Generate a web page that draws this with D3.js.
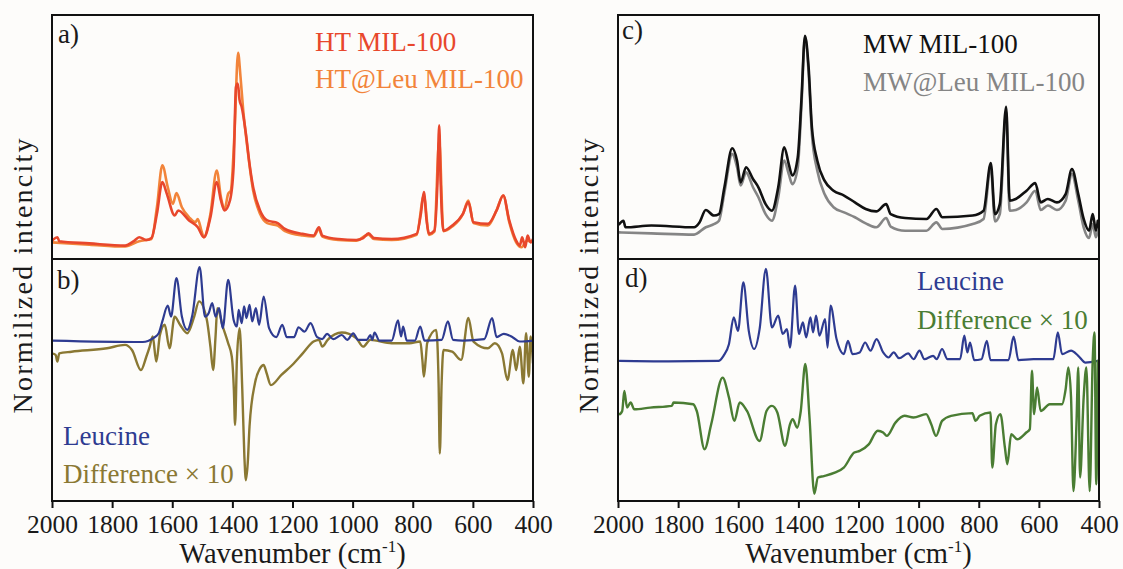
<!DOCTYPE html>
<html>
<head>
<meta charset="utf-8">
<script src="https://cdn.jsdelivr.net/npm/d3@7"></script>
<style>
  html, body { margin: 0; padding: 0; background: #fdfcfa; }
  svg { display: block; }
  text { font-family: "Liberation Serif", "Times New Roman", serif; }
</style>
</head>
<body>
<svg id="chart" width="1123" height="569"></svg>
<script>
// ---------------- DATA (wavenumber cm^-1, normalized intensity 0-100 within each sub-plot) ----------------
const wavenumberTicks = [2000, 1800, 1600, 1400, 1200, 1000, 800, 600, 400];

// a) HT MIL-100
const htMIL = [[2000,7.5],[1982,8.9],[1976,7.3],[1876,6.4],[1757,5.5],[1728,7.3],[1710,8.9],[1686,7.8],[1669,8.6],[1651,18.5],[1633,31.5],[1618,26.7],[1592,17.8],[1580,19.9],[1544,15.8],[1515,13.0],[1495,8.9],[1473,17.1],[1452,31.5],[1438,24.0],[1426,19.9],[1408,24.0],[1396,37.7],[1388,70.5],[1382,71.9],[1376,65.1],[1369,62.3],[1355,51.4],[1343,39.0],[1331,29.5],[1308,19.9],[1284,15.8],[1249,14.7],[1225,12.3],[1166,10.3],[1130,9.6],[1112,13.0],[1101,9.6],[1047,8.2],[988,7.8],[965,8.6],[947,10.5],[929,8.6],[870,8.2],[787,10.3],[773,18.5],[763,27.4],[754,15.8],[746,10.3],[728,11.6],[718,30.8],[712,54.8],[707,30.8],[698,11.6],[669,13.7],[633,18.5],[615,23.3],[598,15.1],[550,14.4],[521,19.9],[499,26.0],[479,15.8],[456,7.5],[444,5.5],[436,8.9],[426,4.8],[418,9.6],[408,6.8],[400,8.2]];
// a) HT@Leu MIL-100
const htLeuMIL = [[2000,6.8],[1876,5.9],[1757,5.1],[1710,7.3],[1669,8.2],[1651,21.2],[1633,38.4],[1615,29.5],[1598,22.6],[1586,27.0],[1568,21.2],[1544,17.1],[1523,15.1],[1515,16.4],[1503,11.6],[1495,8.9],[1473,18.5],[1452,36.3],[1438,25.3],[1426,20.5],[1414,26.7],[1405,28.1],[1393,51.4],[1381,84.5],[1373,74.7],[1364,61.0],[1353,48.6],[1331,28.1],[1308,18.5],[1284,14.7],[1249,13.7],[1225,11.4],[1166,9.6],[1130,9.2],[1112,12.3],[1101,9.2],[1047,7.8],[988,7.5],[947,10.0],[929,8.2],[870,7.8],[787,9.9],[763,26.0],[746,9.9],[728,11.2],[712,48.6],[698,11.4],[669,13.3],[633,18.5],[615,24.0],[598,14.7],[550,13.7],[521,20.1],[499,26.0],[479,15.1],[456,6.8],[438,4.8],[420,7.5],[400,6.8]];

// b) Leucine
const leucineB = [[2000,66.3],[1698,65.7],[1663,67.3],[1645,69.3],[1633,74.2],[1615,80.7],[1604,76.2],[1586,92.1],[1568,76.2],[1550,70.7],[1533,76.9],[1509,96.7],[1491,76.2],[1479,77.6],[1467,81.8],[1456,76.2],[1444,79.7],[1432,71.4],[1414,91.4],[1396,74.9],[1385,72.1],[1379,79.0],[1369,73.5],[1361,80.4],[1353,75.6],[1343,81.1],[1334,74.2],[1322,79.7],[1311,72.8],[1296,84.5],[1278,71.4],[1254,67.7],[1234,72.8],[1219,67.7],[1195,67.7],[1180,71.8],[1160,70.0],[1140,73.5],[1118,67.7],[1101,66.9],[1085,69.1],[1065,66.9],[1036,68.6],[1018,66.6],[998,69.3],[982,66.6],[953,66.6],[941,68.6],[935,66.6],[927,69.6],[911,66.3],[870,66.3],[849,74.6],[839,68.0],[832,72.1],[820,66.3],[793,66.3],[775,72.1],[761,66.3],[704,66.6],[683,74.2],[666,66.6],[633,66.3],[562,66.9],[536,75.6],[521,67.7],[497,69.1],[468,67.7],[444,65.9],[400,66.3]];
// b) Difference x 10
const differenceB = [[2000,61.0],[1988,60.4],[1982,57.6],[1976,61.0],[1935,61.7],[1817,63.1],[1757,64.5],[1734,62.4],[1704,54.1],[1686,59.7],[1675,63.8],[1665,68.0],[1653,57.6],[1641,68.6],[1625,72.8],[1609,63.1],[1592,76.2],[1574,72.8],[1550,69.3],[1527,76.2],[1511,82.5],[1485,74.9],[1473,63.8],[1464,54.1],[1456,68.0],[1450,79.7],[1432,72.1],[1414,65.2],[1402,59.7],[1395,45.9],[1391,31.4],[1385,58.3],[1376,71.4],[1367,45.9],[1360,18.2],[1355,8.6],[1349,15.5],[1343,30.7],[1325,48.6],[1308,54.8],[1296,56.2],[1286,52.8],[1272,47.9],[1237,52.1],[1201,56.2],[1166,61.0],[1130,65.9],[1112,66.6],[1101,63.8],[1083,66.6],[1036,69.6],[988,67.3],[965,63.8],[941,66.6],[870,65.2],[811,65.2],[775,65.9],[768,58.3],[763,51.4],[757,58.3],[752,65.2],[722,70.7],[714,48.6],[710,19.6],[704,48.6],[698,62.4],[669,61.7],[639,58.3],[615,75.6],[598,65.9],[550,63.1],[527,65.2],[503,61.0],[485,50.0],[467,62.4],[456,54.1],[444,63.8],[432,48.6],[423,69.3],[414,51.4],[408,68.0],[400,56.9]];

// c) MW MIL-100
const mwMIL = [[1996,14.3],[1982,15.7],[1975,13.0],[1889,13.7],[1747,13.0],[1729,15.0],[1708,20.1],[1681,17.8],[1664,18.4],[1646,29.4],[1620,45.4],[1604,40.3],[1592,31.4],[1574,37.6],[1551,32.8],[1533,29.4],[1509,22.5],[1488,19.8],[1467,29.4],[1447,45.8],[1432,38.9],[1420,34.2],[1402,41.7],[1390,64.9],[1378,91.5],[1366,78.6],[1355,54.0],[1337,40.3],[1313,32.1],[1283,28.0],[1248,26.0],[1212,23.2],[1176,20.5],[1141,19.5],[1108,22.5],[1093,18.4],[1045,16.8],[974,16.4],[941,20.5],[921,17.1],[820,17.8],[784,19.8],[760,39.3],[746,18.4],[730,22.5],[709,62.4],[697,23.9],[677,24.6],[641,28.0],[612,31.1],[594,23.2],[570,24.6],[540,23.2],[511,26.6],[490,36.9],[469,26.6],[451,16.4],[433,11.6],[421,18.4],[410,11.6],[404,15.7]];
// c) MW@Leu MIL-100
const mwLeuMIL = [[1996,10.9],[1889,10.5],[1747,10.0],[1708,13.0],[1681,14.3],[1664,15.7],[1646,27.3],[1620,43.0],[1604,37.6],[1592,30.1],[1574,35.5],[1551,29.4],[1533,25.3],[1509,18.4],[1488,15.7],[1467,25.3],[1447,40.3],[1432,34.8],[1420,30.7],[1402,37.6],[1390,62.2],[1378,90.6],[1366,76.6],[1355,51.2],[1337,36.2],[1313,26.6],[1283,21.2],[1248,19.1],[1212,17.1],[1176,14.6],[1141,13.0],[1108,16.8],[1093,13.3],[1045,11.6],[974,11.6],[941,15.0],[921,12.3],[820,14.3],[784,16.4],[760,37.6],[746,15.4],[730,18.4],[709,60.1],[697,19.8],[677,20.1],[641,23.2],[612,28.0],[594,20.1],[570,21.9],[540,20.1],[511,23.9],[490,34.8],[469,23.9],[451,13.0],[433,8.6],[421,14.3],[410,8.9],[404,11.6]];

// d) Leucine
const leucineD = [[1994,57.9],[1833,57.7],[1666,57.9],[1649,60.0],[1631,64.8],[1615,75.9],[1601,70.3],[1583,90.3],[1565,70.3],[1547,62.8],[1529,71.0],[1508,95.9],[1488,71.7],[1467,76.6],[1452,69.0],[1438,71.0],[1428,63.4],[1411,89.0],[1398,69.0],[1385,73.8],[1374,67.6],[1360,75.9],[1351,69.7],[1341,76.6],[1330,68.3],[1311,75.2],[1303,63.4],[1293,80.7],[1273,66.9],[1249,60.7],[1235,66.2],[1220,60.7],[1196,61.4],[1178,65.5],[1160,62.1],[1140,66.9],[1118,61.4],[1100,59.3],[1083,61.4],[1065,59.0],[1035,61.0],[1017,58.6],[997,62.1],[981,58.6],[952,60.0],[940,58.6],[922,62.8],[904,58.6],[862,58.6],[848,68.3],[838,61.4],[829,65.5],[815,58.2],[791,58.6],[773,66.2],[761,58.2],[701,58.2],[684,67.9],[668,58.2],[618,58.6],[552,58.6],[537,69.7],[523,60.7],[493,62.1],[469,60.0],[445,57.2],[404,57.9]];
// d) Difference x 10
const differenceD = [[1994,35.9],[1986,37.2],[1979,45.5],[1970,38.6],[1958,40.7],[1946,37.9],[1893,38.6],[1821,39.3],[1815,40.7],[1750,40.0],[1738,37.2],[1712,21.4],[1690,31.7],[1652,51.0],[1631,42.8],[1613,33.1],[1595,40.7],[1571,37.2],[1529,24.8],[1506,37.2],[1488,39.3],[1470,36.6],[1444,22.8],[1428,31.7],[1419,33.8],[1404,30.3],[1392,37.2],[1377,56.6],[1363,34.5],[1347,3.0],[1335,9.7],[1315,10.3],[1279,11.7],[1249,13.8],[1214,20.0],[1196,20.7],[1166,23.4],[1136,29.0],[1118,28.3],[1106,26.9],[1077,32.4],[1047,35.2],[1017,34.5],[975,35.9],[958,31.7],[942,26.9],[922,33.1],[892,35.2],[821,36.3],[811,33.1],[797,35.2],[761,36.6],[755,13.8],[743,31.7],[728,35.9],[713,22.1],[705,15.2],[692,27.6],[672,25.5],[642,28.3],[630,29.7],[623,53.8],[616,35.9],[606,46.9],[594,37.2],[564,40.0],[523,40.0],[511,46.2],[502,55.2],[493,42.8],[485,4.1],[475,31.7],[469,55.2],[463,9.7],[451,42.8],[442,55.2],[431,4.1],[421,57.9],[415,69.7],[409,6.9],[404,57.9]];

// ---------------- LAYOUT ----------------
const svg = d3.select("#chart");
const C = {
  red: "#e8472c", orange: "#f2843a", blue: "#2e3b91", olive: "#8a7833",
  green: "#4a7d33", black: "#111111", gray: "#858585", text: "#1a1a1a"
};
const yTop = 15, yMid = 259, yBot = 501;

const panels = [
  { x0: 52, x1: 533, upper: { label: "a)", lx: 58, ly: 43,
      series: [{ data: htLeuMIL, color: C.orange, w: 2.6 }, { data: htMIL, color: C.red, w: 2.6 }],
      legend: [{ t: "HT MIL-100", c: C.red, x: 315, y: 51 }, { t: "HT@Leu MIL-100", c: C.orange, x: 315, y: 88 }] },
    lower: { label: "b)", lx: 57, ly: 289,
      series: [{ data: differenceB, color: C.olive, w: 2.4 }, { data: leucineB, color: C.blue, w: 2.2 }],
      legend: [{ t: "Leucine", c: C.blue, x: 63, y: 445 }, { t: "Difference × 10", c: C.olive, x: 63, y: 483 }] },
    ylabX: 32 },
  { x0: 618, x1: 1099, upper: { label: "c)", lx: 622, ly: 39,
      series: [{ data: mwLeuMIL, color: C.gray, w: 2.6 }, { data: mwMIL, color: C.black, w: 2.6 }],
      legend: [{ t: "MW MIL-100", c: C.black, x: 863, y: 53 }, { t: "MW@Leu MIL-100", c: C.gray, x: 863, y: 91 }] },
    lower: { label: "d)", lx: 625, ly: 287,
      series: [{ data: leucineD, color: C.blue, w: 2.2 }, { data: differenceD, color: C.green, w: 2.4 }],
      legend: [{ t: "Leucine", c: C.blue, x: 917, y: 290 }, { t: "Difference × 10", c: C.green, x: 917, y: 329 }] },
    ylabX: 598 }
];

const defs = svg.append("defs");

panels.forEach((p, pi) => {
  const x = d3.scaleLinear().domain([2000, 400]).range([p.x0, p.x1]);
  const subs = [
    { cfg: p.upper, y: d3.scaleLinear().domain([0, 100]).range([yMid, yTop]), y0: yTop, y1: yMid },
    { cfg: p.lower, y: d3.scaleLinear().domain([0, 100]).range([yBot, yMid]), y0: yMid, y1: yBot }
  ];
  subs.forEach((s, si) => {
    const id = `clip${pi}${si}`;
    defs.append("clipPath").attr("id", id).append("rect")
      .attr("x", p.x0).attr("y", s.y0).attr("width", p.x1 - p.x0).attr("height", s.y1 - s.y0);
    const g = svg.append("g").attr("clip-path", `url(#${id})`);
    const line = d3.line().x(d => x(d[0])).y(d => s.y(d[1])).curve(d3.curveMonotoneX);
    s.cfg.series.forEach(ser => {
      g.append("path").attr("d", line(ser.data)).attr("fill", "none")
        .attr("stroke", ser.color).attr("stroke-width", ser.w)
        .attr("stroke-linejoin", "round").attr("stroke-linecap", "round");
    });
    svg.append("text").attr("x", s.cfg.lx).attr("y", s.cfg.ly).attr("font-size", 27)
      .attr("fill", C.text).text(s.cfg.label);
    s.cfg.legend.forEach(l => {
      svg.append("text").attr("x", l.x).attr("y", l.y).attr("font-size", 27)
        .attr("fill", l.c).text(l.t);
    });
  });

  // frame
  svg.append("rect").attr("x", p.x0).attr("y", yTop).attr("width", p.x1 - p.x0).attr("height", yBot - yTop)
    .attr("fill", "none").attr("stroke", "#111").attr("stroke-width", 2);
  svg.append("line").attr("x1", p.x0).attr("x2", p.x1).attr("y1", yMid).attr("y2", yMid)
    .attr("stroke", "#111").attr("stroke-width", 2);

  // x axis
  const ax = svg.append("g").attr("transform", `translate(0,${yBot})`)
    .call(d3.axisBottom(x).tickValues(wavenumberTicks).tickFormat(d3.format("d")).tickSize(7).tickSizeOuter(0));
  ax.select(".domain").remove();
  ax.selectAll(".tick line").attr("stroke", "#111").attr("stroke-width", 2);
  ax.selectAll(".tick text").attr("y", 31.5).attr("dy", null)
    .attr("font-family", "Liberation Serif, serif").attr("font-size", 25.5).attr("fill", C.text);

  // x title
  const xt = svg.append("text").attr("x", (p.x0 + p.x1) / 2).attr("y", 563)
    .attr("text-anchor", "middle").attr("font-size", 28.5).attr("fill", C.text);
  xt.append("tspan").text("Wavenumber (cm");
  xt.append("tspan").attr("font-size", 17).attr("dy", -11).text("-1");
  xt.append("tspan").attr("dy", 11).text(")");

  // y title
  svg.append("text").attr("transform", `translate(${p.ylabX},${(yTop + yBot) / 2 + 18}) rotate(-90)`)
    .attr("text-anchor", "middle").attr("font-size", 28).attr("fill", C.text)
    .attr("textLength", 275).attr("lengthAdjust", "spacing")
    .text("Normilized intencity");
});
</script>
</body>
</html>
